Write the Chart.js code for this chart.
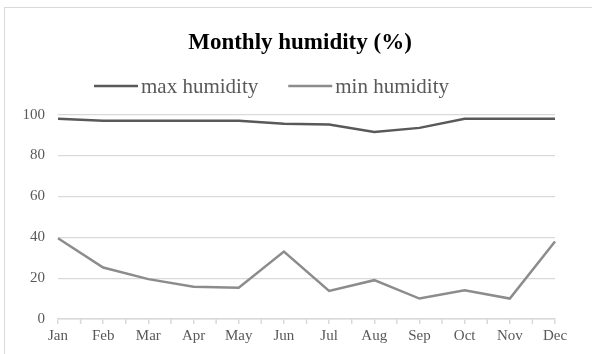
<!DOCTYPE html>
<html>
<head>
<meta charset="utf-8">
<script src="https://cdn.jsdelivr.net/npm/chart.js@4/dist/chart.umd.min.js"></script>
<style>
  html, body { margin: 0; padding: 0; background: #fff; overflow: hidden; }
  #wrap { position: relative; width: 592px; height: 354px; }
  #frame { position: absolute; left: 4px; top: 7px; width: 620px; height: 380px;
           border-left: 1.5px solid #d9d9d9; border-top: 1.5px solid #d9d9d9; box-sizing: border-box; }
  canvas { position: absolute; left: 0; top: 0; }
</style>
</head>
<body>
<div id="wrap">
  <div id="frame"></div>
  <canvas id="c" width="592" height="354"></canvas>
</div>
<script>
const months = ['Jan','Feb','Mar','Apr','May','Jun','Jul','Aug','Sep','Oct','Nov','Dec'];
const maxHumidity = [98, 97, 97, 97, 97, 95.5, 95.2, 91.5, 93.5, 98, 98, 98];
const minHumidity = [39.5, 25.2, 19.5, 15.8, 15.3, 33, 13.7, 19, 10, 14, 10, 37.9];
const yTicks = [0, 20, 40, 60, 80, 100];

const serif = "'Liberation Serif', 'Times New Roman', serif";
const grey = '#595959';
const gridGrey = '#d9d9d9';

// Small tick marks halfway between the month ticks on the category axis
const midTicks = {
  id: 'midTicks',
  afterDatasetsDraw(chart) {
    const x = chart.scales.x, ctx = chart.ctx;
    const y0 = chart.chartArea.bottom;
    ctx.save();
    ctx.strokeStyle = gridGrey;
    ctx.lineWidth = 1.5;
    for (let i = 0; i < months.length - 1; i++) {
      const px = (x.getPixelForValue(i) + x.getPixelForValue(i + 1)) / 2;
      ctx.beginPath();
      ctx.moveTo(px, y0);
      ctx.lineTo(px, y0 + 5);
      ctx.stroke();
    }
    ctx.restore();
  }
};

// Legend row: a short line sample followed closely by the series name
const lineLegend = {
  id: 'lineLegend',
  afterDraw(chart) {
    const ctx = chart.ctx;
    const y = 86;
    let cx = 94;
    ctx.save();
    ctx.font = '21px ' + serif;
    ctx.textBaseline = 'middle';
    ctx.textAlign = 'left';
    chart.data.datasets.forEach((ds) => {
      ctx.strokeStyle = ds.borderColor;
      ctx.lineWidth = 2.5;
      ctx.beginPath();
      ctx.moveTo(cx, y);
      ctx.lineTo(cx + 44, y);
      ctx.stroke();
      cx += 47;
      ctx.fillStyle = grey;
      ctx.fillText(ds.label, cx, y + 1);
      cx += ctx.measureText(ds.label).width + 30;
    });
    ctx.restore();
  }
};

new Chart(document.getElementById('c'), {
  type: 'line',
  data: {
    labels: months,
    datasets: [
      { label: 'max humidity', data: maxHumidity, borderColor: '#595959', backgroundColor: '#595959',
        borderWidth: 2.5, pointRadius: 0, tension: 0 },
      { label: 'min humidity', data: minHumidity, borderColor: '#8c8c8c', backgroundColor: '#8c8c8c',
        borderWidth: 2.5, pointRadius: 0, tension: 0 }
    ]
  },
  options: {
    responsive: false,
    animation: false,
    layout: { padding: { left: 8, right: 0, top: 10, bottom: 6 } },
    plugins: {
      title: {
        display: true,
        text: 'Monthly humidity (%)',
        color: '#000',
        font: { family: serif, size: 23, weight: 'bold', lineHeight: 1.2 },
        padding: { top: 19, bottom: 58 }
      },
      legend: { display: false },
      tooltip: { enabled: false }
    },
    scales: {
      x: {
        offset: false,
        grid: { display: true, drawOnChartArea: false, drawTicks: true, tickLength: 5, color: gridGrey, lineWidth: 1.5 },
        border: { display: true, color: gridGrey, width: 1.5 },
        ticks: { color: grey, font: { family: serif, size: 15, lineHeight: 1.2 }, padding: 3, maxRotation: 0, autoSkip: false }
      },
      y: {
        min: 0, max: 100,
        afterBuildTicks(scale) { scale.ticks = yTicks.map(v => ({ value: v })); },
        afterFit(scale) { scale.width = 50; },
        grid: { color: gridGrey, lineWidth: 1.2, drawTicks: false },
        border: { display: false },
        ticks: { color: grey, font: { family: serif, size: 15 }, padding: 13 }
      },
      gutter: {
        type: 'linear',
        position: 'right',
        display: true,
        afterFit(scale) { scale.width = 37; },
        grid: { display: false, drawTicks: false },
        border: { display: false },
        ticks: { display: false }
      }
    }
  },
  plugins: [midTicks, lineLegend]
});
</script>
</body>
</html>
